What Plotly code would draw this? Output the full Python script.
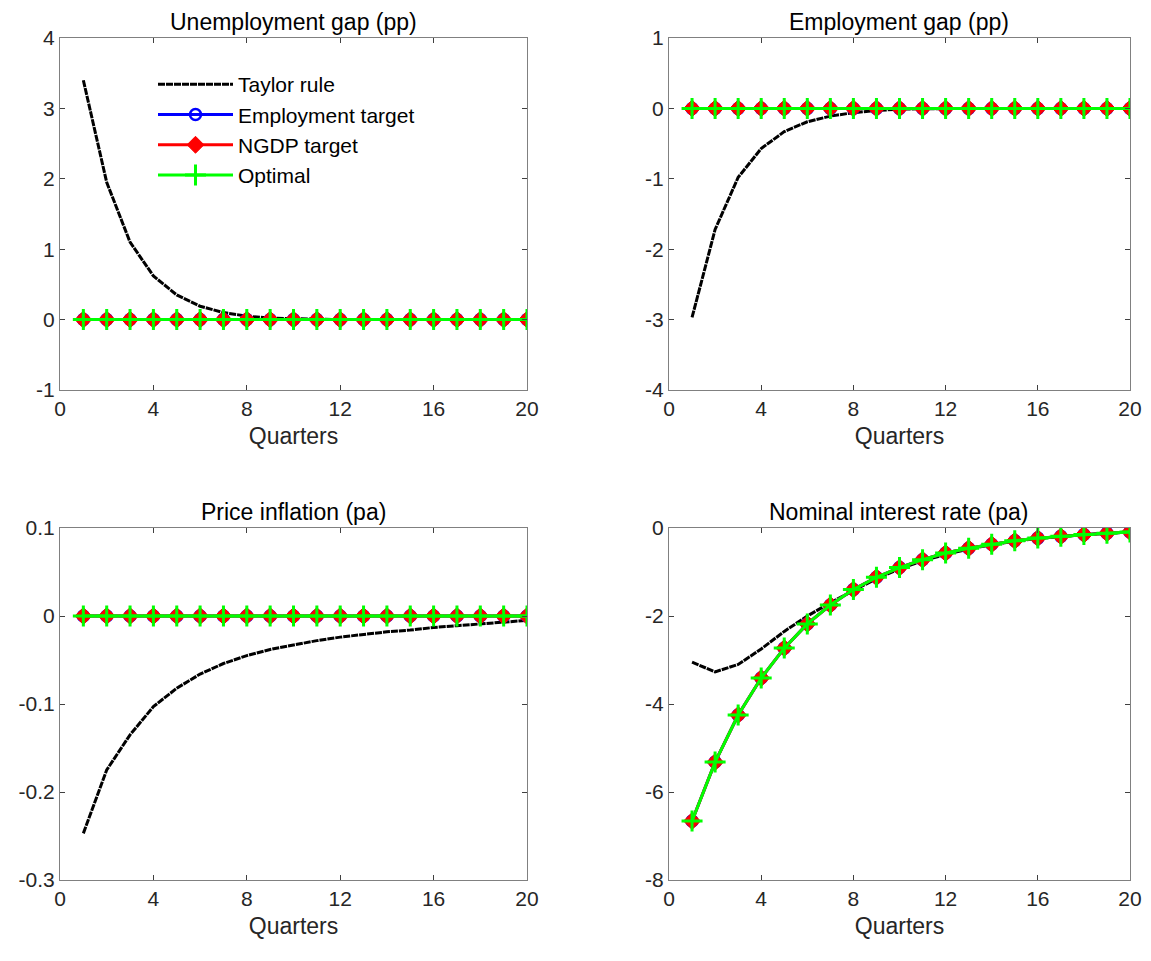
import plotly.graph_objects as go

quarters = list(range(1, 21))

unemp_taylor = [3.40, 1.95, 1.10, 0.62, 0.35, 0.19, 0.10, 0.05, 0.02, 0.01,
                0.005, 0.0, 0.0, 0.0, 0.0, 0.0, 0.0, 0.0, 0.0, 0.0]
emp_taylor = [-2.97, -1.72, -0.98, -0.57, -0.33, -0.19, -0.11, -0.06, -0.03, -0.01,
              -0.005, 0.0, 0.0, 0.0, 0.0, 0.0, 0.0, 0.0, 0.0, 0.0]
infl_taylor = [-0.247, -0.175, -0.135, -0.103, -0.082, -0.066, -0.054, -0.045, -0.038, -0.033,
               -0.028, -0.024, -0.021, -0.018, -0.016, -0.013, -0.011, -0.009, -0.007, -0.005]
rate_taylor = [-3.05, -3.27, -3.10, -2.75, -2.35, -2.00, -1.70, -1.42, -1.15, -0.93,
               -0.75, -0.60, -0.48, -0.38, -0.30, -0.24, -0.19, -0.15, -0.12, -0.09]
rate_opt = [-6.66, -5.32, -4.25, -3.41, -2.73, -2.18, -1.75, -1.40, -1.12, -0.90,
            -0.72, -0.57, -0.46, -0.37, -0.29, -0.23, -0.19, -0.15, -0.12, -0.09]
zeros = [0.0] * 20

panels = [
    ("Unemployment gap (pp)", unemp_taylor, zeros, [-1, 4], [-1, 0, 1, 2, 3, 4]),
    ("Employment gap (pp)", emp_taylor, zeros, [-4, 1], [-4, -3, -2, -1, 0, 1]),
    ("Price inflation (pa)", infl_taylor, zeros, [-0.3, 0.1], [-0.3, -0.2, -0.1, 0, 0.1]),
    ("Nominal interest rate (pa)", rate_taylor, rate_opt, [-8, 0], [-8, -6, -4, -2, 0]),
]
series_names = ["Taylor rule", "Employment target", "NGDP target", "Optimal"]

OFF = 8  # default page body margin
W, H = 1151 - 2 * OFF, 961 - 2 * OFF


def px_x(p):
    return (p - OFF) / W


def px_y(p):
    return (H - (p - OFF)) / H


xdoms = [(px_x(60), px_x(527)), (px_x(669), px_x(1130))]
ydoms = [(px_y(390), px_y(38)), (px_y(880), px_y(528))]

fig = go.Figure()
FONT = "Liberation Sans, Arial, sans-serif"

for i, (title, taylor, others, yr, yt) in enumerate(panels):
    r, c = divmod(i, 2)
    ax = "" if i == 0 else str(i + 1)
    xa, ya = "x" + ax, "y" + ax
    show = i == 0
    fig.add_trace(go.Scatter(x=quarters, y=taylor, name=series_names[0], mode="lines",
                             line=dict(color="black", width=3, dash="7px,1px"),
                             xaxis=xa, yaxis=ya, showlegend=show))
    fig.add_trace(go.Scatter(x=quarters, y=others, name=series_names[1], mode="lines+markers",
                             line=dict(color="#0000ff", width=3),
                             marker=dict(symbol="circle-open", size=11, color="#0000ff",
                                         line=dict(width=2.5, color="#0000ff")),
                             xaxis=xa, yaxis=ya, showlegend=show))
    fig.add_trace(go.Scatter(x=quarters, y=others, name=series_names[2], mode="lines+markers",
                             line=dict(color="#ff0000", width=3),
                             marker=dict(symbol="diamond", size=13, color="#ff0000",
                                         line=dict(width=1, color="#ff0000")),
                             xaxis=xa, yaxis=ya, showlegend=show))
    fig.add_trace(go.Scatter(x=quarters, y=others, name=series_names[3], mode="lines+markers",
                             line=dict(color="#00ff00", width=3),
                             marker=dict(symbol="cross-thin-open", size=15, color="#00ff00",
                                         line=dict(width=3, color="#00ff00")),
                             xaxis=xa, yaxis=ya, showlegend=show))
    axis_common = dict(showgrid=False, zeroline=False, ticks="inside", ticklen=5,
                       linecolor="#808080", linewidth=1, mirror="ticks", tickcolor="#404040",
                       automargin=False,
                       tickfont=dict(family=FONT, size=21, color="#262626"))
    fig.layout["xaxis" + ax] = dict(domain=xdoms[c], range=[0, 20], tickvals=[0, 4, 8, 12, 16, 20],
                                    anchor=ya,
                                    title=dict(text="Quarters", standoff=8,
                                               font=dict(family=FONT, size=23, color="#262626")),
                                    **axis_common)
    fig.layout["yaxis" + ax] = dict(domain=ydoms[r], range=yr, tickvals=yt, anchor=xa,
                                    ticktext=[("%g" % v) for v in yt], **axis_common)
    fig.add_annotation(text=title, x=sum(xdoms[c]) / 2, y=ydoms[r][1], xref="paper", yref="paper",
                       xanchor="center", yanchor="bottom", yshift=1, showarrow=False,
                       font=dict(family=FONT, size=23, color="black"))

fig.update_layout(
    width=W, height=H, margin=dict(l=0, r=0, t=0, b=0),
    paper_bgcolor="white", plot_bgcolor="white",
    legend=dict(x=px_x(153), y=px_y(64), xanchor="left", yanchor="top", bgcolor="rgba(0,0,0,0)",
                font=dict(family=FONT, size=21, color="black"), itemwidth=75, tracegroupgap=0),
)

fig.write_html("out.html")
